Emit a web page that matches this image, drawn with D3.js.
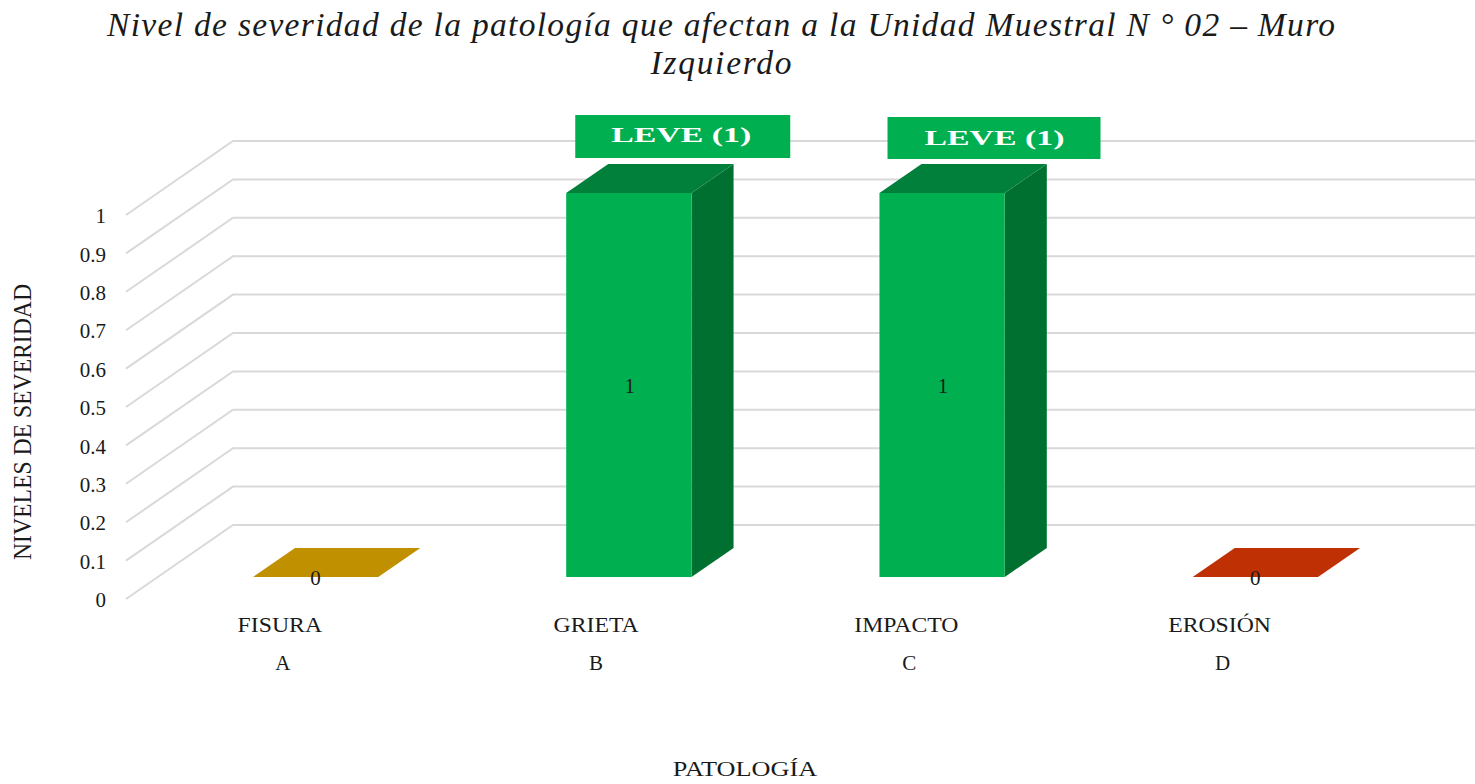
<!DOCTYPE html>
<meta charset="utf-8">
<style>
    body { margin: 0; background: #fff; }
    text { font-family: "Liberation Serif", serif; fill: #1a1a1a; }
    .grid { fill: none; stroke: #d9d9d9; stroke-width: 2; }
    .axis--y path { display: none; }
    .axis--y text { font-size: 21px; font-family: "Liberation Serif", serif; fill: #1a1a1a; }
</style>

<body>
    <svg width="1475" height="784"></svg>
    <script src="https://d3js.org/d3.v7.min.js"></script>
    <script>
        var categories = ["FISURA", "GRIETA", "IMPACTO", "EROSIÓN"];
        var letters = ["A", "B", "C", "D"];
        var values = [0, 1, 1, 0];
        var severityLabels = ["", "LEVE (1)", "LEVE (1)", ""];
        var frontColors = ["#c09000", "#00b050", "#00b050", "#bf3005"];
        var topColors = ["#c09000", "#00803a", "#00803a", "#bf3005"];
        var sideColors = ["#c09000", "#007030", "#007030", "#bf3005"];
        var yTicks = [0, 0.1, 0.2, 0.3, 0.4, 0.5, 0.6, 0.7, 0.8, 0.9, 1];
        var titleLines = ["Nivel de severidad de la patología que afectan a la Unidad Muestral N ° 02 – Muro", "Izquierdo"];

        var svg = d3.select("svg");

        // fake 3d: the floor runs from the front plane to the back wall
        var depthX = 107, depthY = -74;
        var barFront = 0.297, barBack = 0.69;

        var x = d3.scaleBand().domain(categories)
            .range([127.2, 1380.2]).paddingInner(0.6).paddingOuter(0.3);
        var y = d3.scaleLinear().domain([0, 1]).range([599, 215]);

        var data = categories.map(function (c, i) {
            return { name: c, letter: letters[i], value: values[i], label: severityLabels[i], i: i };
        });

        // grid lines
        var line = d3.line();
        svg.append("g").selectAll("path")
            .data(yTicks)
            .enter().append("path")
            .attr("class", "grid")
            .attr("d", function (d) {
                return line([[126, y(d)], [126 + depthX, y(d) + depthY], [1475, y(d) + depthY]]);
            });

        svg.append("g")
            .attr("class", "axis axis--y")
            .attr("transform", "translate(112,1)")
            .call(d3.axisLeft(y).tickValues(yTicks).tickSize(0).tickPadding(6).tickFormat(function (d) { return d; }));

        // point on a bar: u across the band, depth along the floor, v the value
        function pt(d, u, depth, v) {
            return [x(d.name) + u * x.bandwidth() + depth * depthX, y(v) + depth * depthY];
        }

        function poly(points) {
            return line(points) + "Z";
        }

        // stretch a text sideways, the picture has wider glyphs than the font
        function widen(sel, factor) {
            sel.attr("textLength", function () { return this.getComputedTextLength() * factor; })
                .attr("lengthAdjust", "spacingAndGlyphs");
        }

        var bars = svg.append("g").selectAll("g")
            .data(data)
            .enter().append("g");

        bars.filter(function (d) { return d.value > 0; }).append("path")
            .attr("fill", function (d) { return sideColors[d.i]; })
            .attr("d", function (d) {
                return poly([pt(d, 1, barFront, 0), pt(d, 1, barBack, 0), pt(d, 1, barBack, d.value), pt(d, 1, barFront, d.value)]);
            });

        bars.filter(function (d) { return d.value > 0; }).append("path")
            .attr("fill", function (d) { return frontColors[d.i]; })
            .attr("d", function (d) {
                return poly([pt(d, 0, barFront, 0), pt(d, 1, barFront, 0), pt(d, 1, barFront, d.value), pt(d, 0, barFront, d.value)]);
            });

        bars.append("path")
            .attr("fill", function (d) { return topColors[d.i]; })
            .attr("d", function (d) {
                return poly([pt(d, 0, barFront, d.value), pt(d, 1, barFront, d.value), pt(d, 1, barBack, d.value), pt(d, 0, barBack, d.value)]);
            });

        // value labels
        bars.append("text")
            .attr("x", function (d) { return pt(d, 0.5, barFront, 0)[0] + (d.value ? 1 : 0); })
            .attr("y", function (d) { return (pt(d, 0, barFront, 0)[1] + pt(d, 0, barFront, d.value)[1]) / 2 + 8; })
            .attr("text-anchor", "middle")
            .style("font-size", "21px")
            .text(function (d) { return d.value; });

        // severity callouts above the bars
        var callouts = svg.append("g").selectAll("g")
            .data(data.filter(function (d) { return d.label; }))
            .enter().append("g");

        callouts.append("rect")
            .attr("x", function (d) { return pt(d, 0, barBack, 1)[0] - (d.i === 1 ? 33 : 34); })
            .attr("y", function (d) { return d.i === 1 ? 115 : 117; })
            .attr("width", function (d) { return d.i === 1 ? 215 : 213; })
            .attr("height", function (d) { return d.i === 1 ? 43 : 42; })
            .attr("fill", "#00b050");

        callouts.append("text")
            .attr("x", function (d) { return pt(d, 0, barBack, 1)[0] - 34 + 107; })
            .attr("y", function (d) { return d.i === 1 ? 142 : 145; })
            .attr("text-anchor", "middle")
            .attr("textLength", 140)
            .attr("lengthAdjust", "spacingAndGlyphs")
            .style("fill", "#fff")
            .style("font-weight", "bold")
            .style("font-size", "21px")
            .text(function (d) { return d.label; });

        // category labels, two levels
        var labels = svg.append("g").selectAll("g")
            .data(data)
            .enter().append("g")
            .attr("transform", function (d) { return "translate(" + (x(d.name) + x.bandwidth() / 2) + ",0)"; });

        labels.append("text")
            .attr("x", function (d) { return d.i === 1 ? -1 : -4; })
            .attr("y", 632)
            .attr("text-anchor", "middle")
            .style("font-size", "21px")
            .text(function (d) { return d.name; })
            .call(widen, 1.13);

        labels.append("text")
            .attr("x", -1)
            .attr("y", 670)
            .attr("text-anchor", "middle")
            .style("font-size", "21px")
            .text(function (d) { return d.letter; });

        // titles
        svg.append("g").selectAll("text")
            .data(titleLines)
            .enter().append("text")
            .attr("x", 721)
            .attr("y", function (d, i) { return 36 + i * 38; })
            .attr("text-anchor", "middle")
            .attr("textLength", function (d, i) { return i === 0 ? 1228 : 141; })
            .attr("lengthAdjust", "spacing")
            .style("font-size", "33.5px")
            .style("font-style", "italic")
            .text(function (d) { return d; });

        svg.append("text")
            .attr("x", 745)
            .attr("y", 776)
            .attr("text-anchor", "middle")
            .style("font-size", "21px")
            .text("PATOLOGÍA")
            .call(widen, 1.25);

        svg.append("text")
            .attr("transform", "translate(31,422) rotate(-90)")
            .attr("text-anchor", "middle")
            .attr("textLength", 276)
            .attr("lengthAdjust", "spacingAndGlyphs")
            .style("font-size", "25px")
            .text("NIVELES DE SEVERIDAD");
    </script>
</body>
